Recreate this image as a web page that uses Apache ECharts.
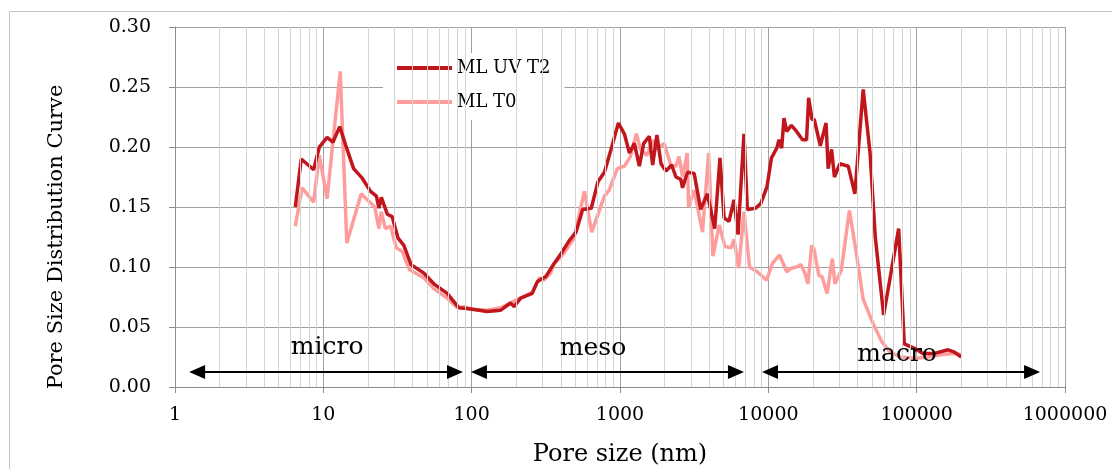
<!DOCTYPE html>
<html lang="en">
<head>
	<meta charset="UTF-8">
	<title>Pore size distribution</title>
	<script src="https://cdn.jsdelivr.net/npm/echarts@6/dist/echarts.min.js"></script>
	<style>
		html,body{margin:0;padding:0;background:#fff;}
		#chart{width:1112px;height:469px;}
	</style>
</head>
<body>
	<div id="chart"></div>
	<script type="text/javascript">
		// pore size (nm) and distribution values
		var t2Size = [6.47,7.1,8.6,9.4,10.6,11.6,12.9,14.1,16,18.3,20.8,22.8,23.7,24.6,27,29.1,31.9,34.9,39,47.5,55.6,68.4,82,98.5,127,157,183,193,214,256,278,316,360,400,455,505,560,640,710,785,870,975,1070,1157,1250,1350,1445,1576,1660,1774,1890,2040,2230,2383,2570,2640,2850,3160,3500,3880,4350,4720,5030,5430,5870,6250,6850,7220,8200,8900,9800,10500,11400,11800,12300,12750,13300,14300,15500,17000,18100,18700,19700,20400,22400,23000,24500,25300,26700,27900,30300,34600,38300,43600,48500,52600,59900,75600,82500,97500,110000,132000,163000,180000,200000];
		var t2Value = [0.150,0.190,0.181,0.200,0.208,0.204,0.217,0.202,0.182,0.174,0.163,0.159,0.149,0.158,0.144,0.142,0.124,0.118,0.102,0.095,0.086,0.078,0.066,0.065,0.063,0.064,0.070,0.067,0.074,0.078,0.088,0.092,0.103,0.111,0.122,0.129,0.148,0.149,0.171,0.179,0.198,0.220,0.211,0.195,0.203,0.184,0.203,0.209,0.185,0.210,0.186,0.180,0.185,0.175,0.173,0.166,0.179,0.178,0.148,0.161,0.132,0.191,0.141,0.138,0.156,0.127,0.211,0.148,0.149,0.153,0.167,0.191,0.199,0.206,0.199,0.224,0.213,0.218,0.213,0.206,0.206,0.241,0.223,0.223,0.201,0.200,0.220,0.182,0.198,0.175,0.186,0.184,0.161,0.248,0.195,0.125,0.060,0.132,0.036,0.032,0.028,0.028,0.031,0.029,0.025];

		var t0Size = [6.47,7.2,8.6,9.4,10.6,13,14.4,18,22.2,23.7,24.6,26.2,28.4,31,34,38,47.5,55.6,68.4,80,88.7,98.5,127,157,189,220,256,286,306,340,360,410,490,575,645,785,845,960,1070,1175,1290,1375,1520,1660,1740,1985,2200,2380,2500,2640,2840,2900,3160,3600,3960,4230,4670,5100,5620,5870,6320,6850,7470,8420,9730,10650,11900,13300,14300,15500,16600,17600,18500,19600,20400,21900,23000,24900,27000,28100,31000,35200,39500,43600,50800,58100,66200,77600,97500,120000,148000,180000,200000];
		var t0Value = [0.134,0.166,0.154,0.193,0.157,0.263,0.120,0.161,0.150,0.132,0.146,0.132,0.134,0.116,0.113,0.098,0.091,0.082,0.074,0.066,0.067,0.065,0.064,0.066,0.071,0.075,0.079,0.091,0.089,0.095,0.103,0.110,0.124,0.163,0.129,0.159,0.164,0.182,0.184,0.192,0.211,0.198,0.193,0.206,0.198,0.203,0.185,0.184,0.192,0.175,0.195,0.150,0.164,0.129,0.195,0.109,0.135,0.117,0.116,0.123,0.099,0.146,0.100,0.096,0.089,0.103,0.110,0.096,0.099,0.100,0.102,0.095,0.086,0.118,0.114,0.093,0.092,0.078,0.107,0.086,0.097,0.147,0.109,0.073,0.053,0.038,0.029,0.025,0.024,0.025,0.027,0.028,0.027];

		// pore classes: name, from, to (nm)
		var classNames = ['micro','meso','macro'];
		var classFrom = [1.41, 112, 10260];
		var classTo = [77.2, 6050, 600000];
		var arrowY = 0.0125;
		// where the class names sit
		var classLabelX = [10.6, 658, 73800];
		var classLabelY = [0.0333, 0.0317, 0.0275];

		var serif = 'DejaVu Serif';

		function pairs(xs, ys){
			var out = [];
			for(var i=0;i<xs.length;i++){ out.push([xs[i], ys[i]]); }
			return out;
		}

		// minor log grid lines at 2..9 of each decade
		var minorLines = [];
		for(var d=1; d<1000000; d*=10){
			for(var m=2;m<=9;m++){ minorLines.push({xAxis: m*d}); }
		}

		var arrows = [], classLabels = [];
		for(var i=0;i<classNames.length;i++){
			arrows.push([{coord:[classFrom[i], arrowY]}, {coord:[classTo[i], arrowY]}]);
			classLabels.push({name: classNames[i], coord:[classLabelX[i], classLabelY[i]]});
		}

		var myChart = echarts.init(document.getElementById('chart'));
		var option = {
			animation: false,
			graphic: [{
				type: 'rect', left: 7, top: 9, z: -10,
				shape: {width: 1200, height: 600},
				style: {fill: 'none', stroke: '#c4c4c4', lineWidth: 1}
			}],
			grid: {left: 175, right: 47, top: 27, bottom: 82, outerBoundsMode: 'none', containLabel: false},
			legend: {
				orient: 'vertical', left: 383, top: 53,
				backgroundColor: '#fff',
				padding: [6, 14, 9, 14],
				itemWidth: 55, itemHeight: 4, itemGap: 16,
				icon: 'rect',
				itemStyle: {borderWidth: 0},
				textStyle: {fontFamily: serif, fontSize: 18, color: '#000'},
				data: ['ML UV T2', 'ML T0']
			},
			xAxis: {
				type: 'log', logBase: 10, min: 1, max: 1000000,
				name: 'Pore size (nm)', nameLocation: 'middle', nameGap: 56,
				nameTextStyle: {fontFamily: serif, fontSize: 24, color: '#000'},
				axisLine: {lineStyle: {color: '#8c8c8c'}},
				axisTick: {show: true, length: 6, lineStyle: {color: '#8c8c8c'}},
				axisLabel: {fontFamily: serif, fontSize: 19, color: '#000', margin: 19,
					formatter: function(v){ return String(Math.round(v)); }},
				splitLine: {show: true, lineStyle: {color: '#a0a0a0', width: 1}}
			},
			yAxis: {
				type: 'value', min: 0, max: 0.30, interval: 0.05,
				name: 'Pore Size Distribution Curve', nameLocation: 'middle', nameGap: 108,
				nameTextStyle: {fontFamily: serif, fontSize: 21, color: '#000', padding: [0, 60, 0, 0]},
				axisLine: {show: true, lineStyle: {color: '#8c8c8c'}},
				axisTick: {show: true, length: 6, lineStyle: {color: '#8c8c8c'}},
				axisLabel: {fontFamily: serif, fontSize: 19, color: '#000', margin: 24,
					formatter: function(v){ return v.toFixed(2); }},
				splitLine: {show: true, lineStyle: {color: '#a0a0a0', width: 1}}
			},
			series: [
				{
					name: 'grid-minor', type: 'line', data: [], z: 1, silent: true,
					markLine: {
						silent: true, symbol: 'none', animation: false,
						label: {show: false},
						lineStyle: {color: '#d4d4d4', width: 1, type: 'solid'},
						emphasis: {disabled: true},
						data: minorLines
					}
				},
				{
					name: 'ML UV T2', type: 'line', z: 4,
					data: pairs(t2Size, t2Value),
					showSymbol: false, symbol: 'none',
					itemStyle: {color: '#c0161c'},
					lineStyle: {color: '#c0161c', width: 3.5}
				},
				{
					name: 'ML T0', type: 'line', z: 3,
					data: pairs(t0Size, t0Value),
					showSymbol: false, symbol: 'none',
					itemStyle: {color: '#ff9d9d'},
					lineStyle: {color: '#ff9d9d', width: 3.5}
				},
				{
					name: 'classes', type: 'line', data: [], z: 5, silent: true,
					markLine: {
						silent: true, animation: false,
						symbol: ['triangle', 'triangle'], symbolSize: [14, 16],
						label: {show: false},
						lineStyle: {color: '#000', width: 2, type: 'solid'},
						emphasis: {disabled: true},
						data: arrows
					},
					markPoint: {
						silent: true, animation: false,
						symbol: 'circle', symbolSize: 0,
						label: {show: true, position: 'inside', formatter: '{b}',
							fontFamily: serif, fontSize: 25, color: '#000'},
						data: classLabels
					}
				}
			]
		};
		myChart.setOption(option);
	</script>
</body>
</html>
